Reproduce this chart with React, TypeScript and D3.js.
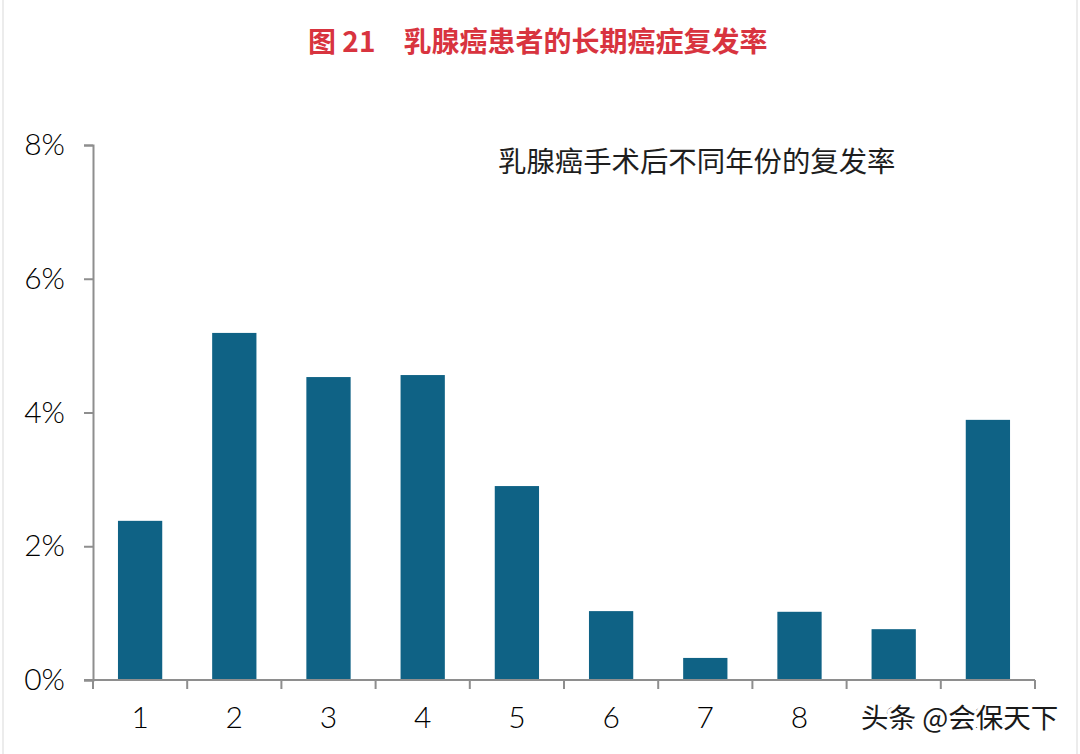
import * as React from "react"
import * as d3 from "d3"

const years = ["1", "2", "3", "4", "5", "6", "7", "8", "9", "10"]
const recurrence = [2.38, 5.19, 4.53, 4.56, 2.9, 1.03, 0.33, 1.02, 0.76, 3.89]
const yTicks = [0, 2, 4, 6, 8]

const title = "图 21\u2003乳腺癌患者的长期癌症复发率"
const subtitle = "乳腺癌手术后不同年份的复发率"
const watermark = "头条 @会保天下"

const width = 1080
const height = 754
const margin = { top: 145, right: 45, bottom: 74, left: 93 }

export default function App() {
  const svgRef = React.useRef<SVGSVGElement>(null)

  React.useEffect(() => {
    if (!svgRef.current) return
    const svg = d3.select(svgRef.current)
    svg.selectAll("*").remove()

    const x = d3
      .scaleBand<string>()
      .domain(years)
      .range([margin.left, width - margin.right])
      .paddingInner(0.53)
      .paddingOuter(0.265)

    const y = d3
      .scaleLinear()
      .domain([0, 8])
      .range([height - margin.bottom, margin.top])

    const axisColor = "#8e8e8e"
    const tickFont = "Lato, 'DejaVu Sans', sans-serif"

    // frame edges
    svg.append("rect").attr("width", width).attr("height", height).attr("fill", "#fff")
    svg.append("line").attr("x1", 3).attr("x2", 3).attr("y1", 0).attr("y2", height)
      .attr("stroke", "#e6e6e6").attr("stroke-width", 1.5)
    svg.append("line").attr("x1", 1077).attr("x2", 1077).attr("y1", 0).attr("y2", height)
      .attr("stroke", "#e6e6e6").attr("stroke-width", 1.5)

    // title
    svg.append("text")
      .attr("x", 308)
      .attr("y", 52)
      .attr("fill", "#d8343f")
      .style("font-family", "'Noto Sans CJK SC', sans-serif")
      .style("font-weight", 700)
      .style("font-size", "28px")
      .text(title)

    svg.append("text")
      .attr("x", 498)
      .attr("y", 172)
      .attr("fill", "#1e1e1e")
      .style("font-family", "'Noto Sans CJK SC', sans-serif")
      .style("font-size", "28.4px")
      .text(subtitle)

    // bars
    svg.append("g")
      .selectAll("rect")
      .data(recurrence)
      .enter()
      .append("rect")
      .attr("x", (_, i) => x(years[i])!)
      .attr("y", (d) => y(d))
      .attr("width", x.bandwidth())
      .attr("height", (d) => y(0) - y(d))
      .attr("fill", "#0f6285")

    // y axis
    const yAxis = svg.append("g")
      .attr("transform", `translate(${margin.left},0)`)
      .call(d3.axisLeft(y).tickValues(yTicks).tickSize(9).tickPadding(19).tickFormat((d) => `${d}%`))
    yAxis.select(".domain").attr("stroke", axisColor).attr("stroke-width", 2)
    yAxis.selectAll(".tick line").attr("stroke", axisColor).attr("stroke-width", 2)
    yAxis.selectAll(".tick text")
      .attr("fill", "#000")
      .style("font-family", tickFont)
      .style("font-weight", 300)
      .style("font-size", "30px")

    // x axis
    const step = x.step()
    const tickPositions = d3.range(years.length + 1).map((i) => margin.left + i * step)
    const xg = svg.append("g")
    xg.append("line")
      .attr("x1", margin.left - 9)
      .attr("x2", width - margin.right)
      .attr("y1", y(0))
      .attr("y2", y(0))
      .attr("stroke", axisColor)
      .attr("stroke-width", 2)
    xg.selectAll(".xt")
      .data(tickPositions)
      .enter()
      .append("line")
      .attr("x1", (d) => d)
      .attr("x2", (d) => d)
      .attr("y1", y(0))
      .attr("y2", y(0) + 9)
      .attr("stroke", axisColor)
      .attr("stroke-width", 2)
    xg.selectAll(".xl")
      .data(years)
      .enter()
      .append("text")
      .attr("x", (d) => x(d)! + x.bandwidth() / 2)
      .attr("y", y(0) + 48)
      .attr("text-anchor", "middle")
      .attr("fill", "#000")
      .style("font-family", tickFont)
      .style("font-weight", 300)
      .style("font-size", "30px")
      .text((d) => d)

    // watermark (covers the last two year labels, as in the source image)
    svg.append("text")
      .attr("x", 861)
      .attr("y", 728)
      .attr("fill", "#1a1a1a")
      .attr("stroke", "#fff")
      .attr("stroke-width", 7)
      .attr("stroke-linejoin", "round")
      .style("paint-order", "stroke")
      .style("font-family", "'Noto Sans CJK SC', sans-serif")
      .style("font-size", "27.5px")
      .text(watermark)

    return () => {
      svg.selectAll("*").remove()
    }
  }, [])

  return (
    <svg
      ref={svgRef}
      width={width}
      height={height}
      viewBox={`0 0 ${width} ${height}`}
      style={{ position: "absolute", left: 0, top: 0, display: "block" }}
    />
  )
}
